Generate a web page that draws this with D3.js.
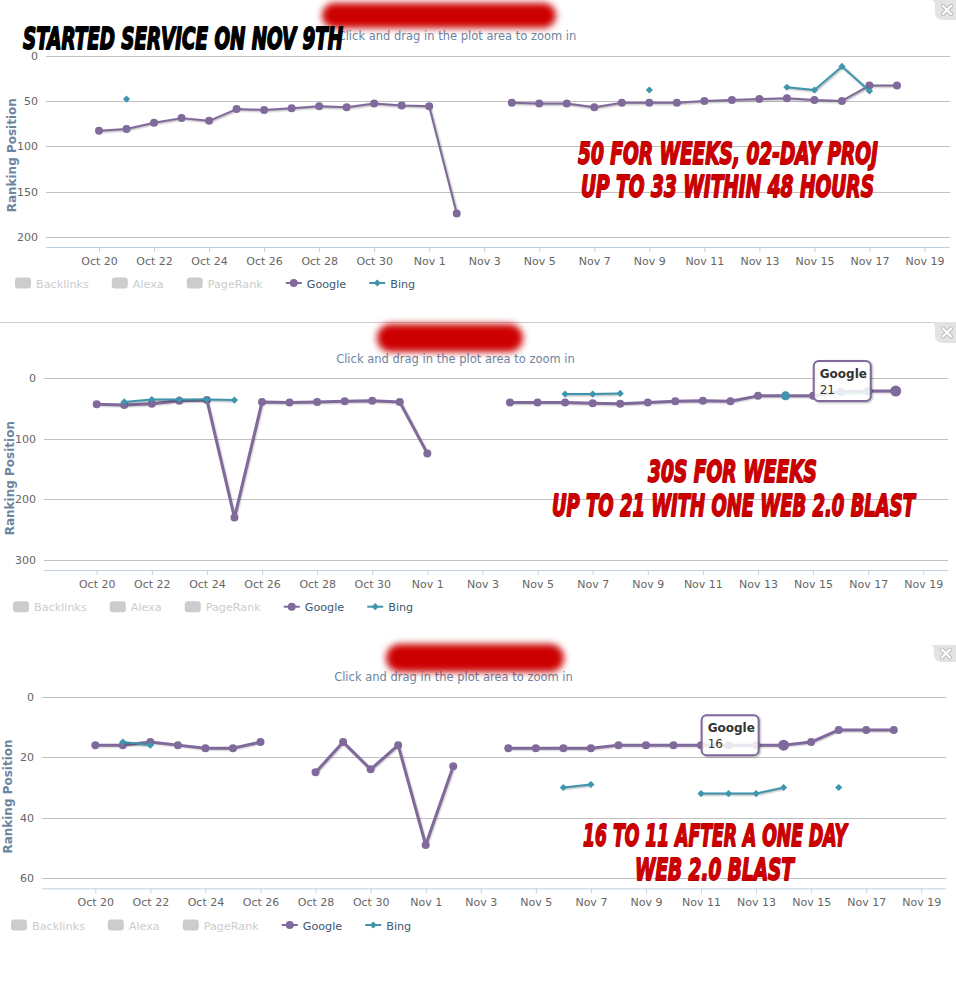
<!DOCTYPE html>
<html><head><meta charset="utf-8">
<script src="https://cdn.jsdelivr.net/npm/d3@7"></script>
<style>body{margin:0;background:#fff}svg{display:block}</style>
</head><body><svg id="c" width="956" height="1000"></svg>
<script>
// ---------- DATA ----------
const dates = ["2012-10-20","2012-10-21","2012-10-22","2012-10-23","2012-10-24","2012-10-25","2012-10-26","2012-10-27","2012-10-28","2012-10-29","2012-10-30","2012-10-31","2012-11-01","2012-11-02","2012-11-03","2012-11-04","2012-11-05","2012-11-06","2012-11-07","2012-11-08","2012-11-09","2012-11-10","2012-11-11","2012-11-12","2012-11-13","2012-11-14","2012-11-15","2012-11-16","2012-11-17","2012-11-18"];
const google1 = [83,81,74,69,72,59,60,58,56,57,53,55,56,174,null,52,53,53,57,52,52,52,50,49,48,47,49,50,33,33];
const bing1   = [null,48,null,null,null,null,null,null,null,null,null,null,null,null,null,null,null,null,null,null,38,null,null,null,null,35,38,12,39,null];
const google2 = [43,44,42,37,36,230,39,40,39,38,37,39,124,null,null,40,40,40,41,42,40,38,37,38,29,29,29,22,21,21];
const bing2   = [null,39,35,35,35,36,null,null,null,null,null,null,null,null,null,null,null,26,26,25,null,null,null,null,null,29,null,24,23,null];
const google3 = [16,16,15,16,17,17,15,null,25,15,24,16,49,23,null,17,17,17,17,16,16,16,16,16,16,16,15,11,11,11];
const bing3   = [null,15,16,null,null,null,null,null,null,null,null,null,null,null,null,null,null,30,29,null,null,null,32,32,32,30,null,30,null,null];
const yTicks1 = [0,50,100,150,200];
const yTicks2 = [0,100,200,300];
const yTicks3 = [0,20,40,60];
const xTickDates = ["2012-10-20","2012-10-22","2012-10-24","2012-10-26","2012-10-28","2012-10-30","2012-11-01","2012-11-03","2012-11-05","2012-11-07","2012-11-09","2012-11-11","2012-11-13","2012-11-15","2012-11-17","2012-11-19"];
const legendNames = ["Backlinks","Alexa","PageRank","Google","Bing"];
const legendVisible = [false,false,false,true,true];
const subtitleText = "Click and drag in the plot area to zoom in";
const yAxisTitle = "Ranking Position";
const tooltip2 = {series:"Google", date:"2012-11-18", value:21};
const tooltip3 = {series:"Google", date:"2012-11-14", value:16};
const headline = "STARTED SERVICE ON NOV 9TH";
const notes1 = ["50 FOR WEEKS, 02-DAY PROJ","UP TO 33 WITHIN 48 HOURS"];
const notes2 = ["30S FOR WEEKS","UP TO 21 WITH ONE WEB 2.0 BLAST"];
const notes3 = ["16 TO 11 AFTER A ONE DAY","WEB 2.0 BLAST"];

// ---------- LAYOUT ----------
const COL = {google:"#80699B", bing:"#3D96AE", grid:"#C0C0C0", axis:"#C0D0E0", label:"#666", title:"#6D869F", legend:"#3E576F", hidden:"#CCC", red:"#cc0000"};
const FONT = "'DejaVu Sans', Verdana, sans-serif";
const parse = d3.timeParse("%Y-%m-%d");
const fmt = d3.timeFormat("%b %-d");

const panels = [
  {google:google1, bing:bing1, yTicks:yTicks1, yMax:211, plotL:46, plotR:950, x0:99, x1:924.5, yTop:55.5, yBot:247,
   subY:39.5, subX:457, legendX:15, legendY:283, titleX:16, hover:null, bingHover:null, gLW:2,
   blob:[322,3,234,25], close:[933,0,20], notes:notes1,
   notePos:[[578,164,300],[581,197,293]]},
  {google:google2, bing:bing2, yTicks:yTicks2, yMax:316.5, plotL:44, plotR:948, x0:96.7, x1:923.3, yTop:378.3, yBot:570,
   subY:362.5, subX:455.5, legendX:13, legendY:606.7, titleX:14, hover:tooltip2, bingHover:"2012-11-14", gLW:3,
   blob:[377,324,146,28], close:[933,322,21], notes:notes2,
   notePos:[[648,482,169],[552,516,363]]},
  {google:google3, bing:bing3, yTicks:yTicks3, yMax:63.3, plotL:42, plotR:946, x0:95.3, x1:921.3, yTop:696.7, yBot:888.3,
   subY:681, subX:453.5, legendX:11, legendY:925, titleX:12, hover:tooltip3, bingHover:null, gLW:3,
   blob:[386,644,178,28], close:[932,645,17], notes:notes3,
   notePos:[[583,846,264],[635,879.5,159]]}
];

const svg = d3.select("#c");
const defs = svg.append("defs");
defs.append("filter").attr("id","blur").attr("x","-30%").attr("y","-80%").attr("width","160%").attr("height","260%")
  .append("feGaussianBlur").attr("stdDeviation",3.5);

svg.append("line").attr("x1",0).attr("x2",933).attr("y1",322.5).attr("y2",322.5).attr("stroke","#ccc");

function diamond(r){ return `M0,${-r}L${r},0L0,${r}L${-r},0Z`; }

panels.forEach((p)=>{
  const g = svg.append("g");
  const x = d3.scaleTime().domain([parse("2012-10-20"), parse("2012-11-19")]).range([p.x0, p.x1]);
  const y = d3.scaleLinear().domain([0, p.yMax]).range([p.yTop, p.yBot]);

  g.append("text").attr("x",p.subX).attr("y",p.subY).attr("text-anchor","middle")
    .attr("font-family",FONT).attr("font-size",11.5).attr("fill",COL.title).text(subtitleText);

  const yAxis = d3.axisLeft(y).tickValues(p.yTicks).tickSize(-(p.plotR-p.plotL)).tickPadding(8);
  const ya = g.append("g").attr("transform",`translate(${p.plotL},0)`).call(yAxis);
  ya.select(".domain").remove();
  ya.selectAll(".tick line").attr("stroke",COL.grid).attr("shape-rendering","crispEdges");
  ya.selectAll(".tick text").attr("fill",COL.label).attr("font-family",FONT).attr("font-size",11);

  const xAxis = d3.axisBottom(x).tickValues(xTickDates.map(parse)).tickFormat(fmt).tickSize(5).tickPadding(5);
  const xa = g.append("g").attr("transform",`translate(0,${p.yBot})`).call(xAxis);
  xa.select(".domain").remove();
  xa.append("line").attr("x1",p.plotL).attr("x2",p.plotR).attr("y1",0.5).attr("y2",0.5).attr("stroke",COL.axis);
  xa.selectAll(".tick line").attr("stroke",COL.axis);
  xa.selectAll(".tick text").attr("fill",COL.label).attr("font-family",FONT).attr("font-size",11);

  const midY = (p.yTop+p.yBot)/2 + 4;
  g.append("text").attr("transform",`translate(${p.titleX},${midY}) rotate(-90)`).attr("text-anchor","middle")
    .attr("font-family",FONT).attr("font-size",12).attr("font-weight","bold").attr("fill",COL.title).text(yAxisTitle);

  const mk = arr => arr.map((v,i)=>({d:parse(dates[i]), v}));
  const drawSeries = (vals, color, lw, isBing) => {
    const data = mk(vals);
    const line = d3.line().defined(d=>d.v!=null).x(d=>x(d.d)).y(d=>y(d.v));
    const sg = g.append("g");
    for (let i=1;i<=3;i++){
      sg.append("path").attr("d",line(data)).attr("fill","none").attr("stroke","#000")
        .attr("stroke-opacity",0.05*i).attr("stroke-width",7-2*i).attr("stroke-linejoin","round")
        .attr("transform","translate(1,1)");
    }
    sg.append("path").attr("d",line(data)).attr("fill","none").attr("stroke",color).attr("stroke-width",lw)
      .attr("stroke-linejoin","round").attr("stroke-linecap","round");
    data.filter(d=>d.v!=null).forEach(d=>{
      if (isBing) sg.append("path").attr("d",diamond(3.6)).attr("transform",`translate(${x(d.d)},${y(d.v)})`).attr("fill",color);
      else sg.append("circle").attr("cx",x(d.d)).attr("cy",y(d.v)).attr("r",4).attr("fill",color);
    });
  };
  drawSeries(p.google, COL.google, p.gLW, false);
  drawSeries(p.bing, COL.bing, 2, true);
  if (p.bingHover){
    const i = dates.indexOf(p.bingHover);
    g.append("circle").attr("cx",x(parse(p.bingHover))).attr("cy",y(p.bing[i])).attr("r",4.5).attr("fill",COL.bing);
  }

  if (p.hover){
    const hx = x(parse(p.hover.date)), hy = y(p.hover.value);
    g.append("circle").attr("cx",hx).attr("cy",hy).attr("r",5.5).attr("fill",COL.google);
    const tg = g.append("g");
    const bx = hx - 82, by = hy - 30, bw = 57, bh = 40;
    for (let i=1;i<=3;i++){
      tg.append("rect").attr("x",bx+1).attr("y",by+1).attr("width",bw).attr("height",bh).attr("rx",5)
        .attr("fill","none").attr("stroke","#000").attr("stroke-opacity",0.05*i).attr("stroke-width",7-2*i);
    }
    tg.append("rect").attr("x",bx).attr("y",by).attr("width",bw).attr("height",bh).attr("rx",5)
      .attr("fill","rgba(255,255,255,0.85)").attr("stroke",COL.google).attr("stroke-width",2);
    tg.append("text").attr("x",bx+6).attr("y",by+17).attr("font-family",FONT).attr("font-size",12)
      .attr("font-weight","bold").attr("fill","#333").text(p.hover.series);
    tg.append("text").attr("x",bx+6).attr("y",by+33).attr("font-family",FONT).attr("font-size",12)
      .attr("fill","#333").text(p.hover.value);
  }

  const lg = g.append("g").attr("transform",`translate(${p.legendX},${p.legendY})`);
  let lx = 0;
  legendNames.forEach((name,i)=>{
    const it = lg.append("g").attr("transform",`translate(${lx},0)`);
    if (!legendVisible[i]){
      it.append("rect").attr("x",0).attr("y",-5.5).attr("width",16).attr("height",11).attr("rx",3).attr("fill",COL.hidden);
    } else {
      const c = name==="Google"?COL.google:COL.bing;
      it.append("line").attr("x1",0).attr("x2",16).attr("y1",0).attr("y2",0).attr("stroke",c).attr("stroke-width",2);
      if (name==="Google") it.append("circle").attr("cx",8).attr("cy",0).attr("r",4).attr("fill",c);
      else it.append("path").attr("d",diamond(3.6)).attr("transform","translate(8,0)").attr("fill",c);
    }
    const t = it.append("text").attr("x",21).attr("y",4.5).attr("font-family",FONT).attr("font-size",11.2)
      .attr("fill",legendVisible[i]?COL.legend:COL.hidden).text(name);
    lx += 21 + t.node().getComputedTextLength() + 23;
  });

  const [cx, cy, ch] = p.close;
  g.append("path").attr("d",`M${cx-4},${cy} C${cx+2},${cy} ${cx+2},${cy+3} ${cx+2},${cy+8} L${cx+2},${cy+ch-8} Q${cx+2},${cy+ch} ${cx+10},${cy+ch} L956,${cy+ch} L956,${cy} Z`)
    .attr("fill","#e3e3e3");
  const mx = cx+14, my = cy+ch/2;
  [[-4,-4,4,4],[-4,4,4,-4]].forEach(s=>{
    g.append("line").attr("x1",mx+s[0]).attr("y1",my+s[1]).attr("x2",mx+s[2]).attr("y2",my+s[3]).attr("stroke","#bbb").attr("stroke-width",4).attr("stroke-linecap","round");
  });
  [[-4,-4,4,4],[-4,4,4,-4]].forEach(s=>{
    g.append("line").attr("x1",mx+s[0]).attr("y1",my+s[1]).attr("x2",mx+s[2]).attr("y2",my+s[3]).attr("stroke","#fff").attr("stroke-width",2.2).attr("stroke-linecap","round");
  });

  const [bx0,by0,bw0,bh0] = p.blob;
  g.append("rect").attr("x",bx0).attr("y",by0).attr("width",bw0).attr("height",bh0).attr("rx",bh0/2)
    .attr("fill",COL.red).attr("filter","url(#blur)");

  p.notes.forEach((txt,k)=>{
    const [nx,ny,nw] = p.notePos[k];
    g.append("text").attr("x",nx).attr("y",ny).attr("textLength",nw).attr("lengthAdjust","spacingAndGlyphs")
      .attr("font-family","'DejaVu Sans', sans-serif").attr("font-weight","bold").attr("font-style","oblique")
      .attr("font-size",30).attr("fill",COL.red).attr("stroke","#b80000").attr("stroke-width",1.8)
      .attr("stroke-linejoin","round").attr("paint-order","stroke").text(txt);
  });
});

svg.append("text").attr("x",23).attr("y",49).attr("textLength",320).attr("lengthAdjust","spacingAndGlyphs")
  .attr("font-family","'DejaVu Sans', sans-serif").attr("font-weight","bold").attr("font-style","oblique")
  .attr("font-size",29.5).attr("fill","#000").attr("stroke","#000").attr("stroke-width",1.8)
  .attr("stroke-linejoin","round").text(headline);
</script>
</body></html>
